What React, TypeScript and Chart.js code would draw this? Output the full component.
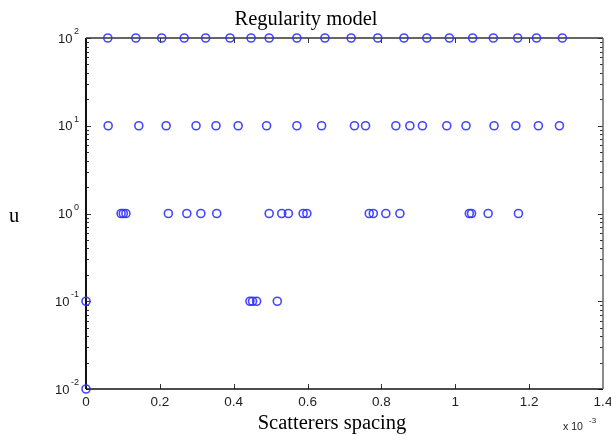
import React, { useEffect, useRef } from "react";
import { Chart, registerables } from "chart.js";

Chart.register(...registerables);

// ---- Data (x values in units of 1e-3) ----
const X_U100 = [0.059, 0.135, 0.205, 0.266, 0.324, 0.39, 0.447, 0.496, 0.571, 0.647, 0.718, 0.79, 0.861, 0.923, 0.984, 1.047, 1.103, 1.169, 1.22, 1.29];
const X_U10 = [0.06, 0.143, 0.217, 0.298, 0.352, 0.412, 0.489, 0.571, 0.638, 0.727, 0.757, 0.839, 0.877, 0.911, 0.977, 1.029, 1.105, 1.164, 1.225, 1.282];
const X_U1 = [0.095, 0.101, 0.108, 0.223, 0.273, 0.311, 0.354, 0.496, 0.53, 0.548, 0.588, 0.598, 0.767, 0.778, 0.812, 0.85, 1.038, 1.044, 1.089, 1.171];
const X_U01 = [0, 0.444, 0.451, 0.462, 0.518];
const X_U001 = [0];

const ROWS: [number, number[]][] = [
  [100, X_U100],
  [10, X_U10],
  [1, X_U1],
  [0.1, X_U01],
  [0.01, X_U001],
];

const Y_TICK_EXPONENTS = [-2, -1, 0, 1, 2];
const X_MIN = 0;
const X_MAX = 1.4;
const X_STEP = 0.2;

const TITLE = "Regularity model";
const X_TITLE = "Scatterers spacing";
const Y_TITLE = "u";
const X_MULT_BASE = "x 10";
const X_MULT_EXP = "-3";

const points = ROWS.flatMap(([u, xs]) => xs.map((x) => ({ x, y: u })));

const framePlugin = {
  id: "matlabFrame",
  beforeDatasetsDraw(chart: any) {
    const { ctx, chartArea: a } = chart;
    const xs = chart.scales.x;
    const ys = chart.scales.y;
    ctx.save();
    ctx.strokeStyle = "#333";
    ctx.lineWidth = 1;
    ctx.beginPath();
    xs.ticks.forEach((t: any) => {
      const px = Math.round(xs.getPixelForValue(t.value)) + 0.5;
      if (t.value <= X_MIN || t.value >= X_MAX) return;
      ctx.moveTo(px, a.bottom);
      ctx.lineTo(px, a.bottom - 5);
      ctx.moveTo(px, a.top);
      ctx.lineTo(px, a.top + 5);
    });
    for (let e = Y_TICK_EXPONENTS[0]; e <= Y_TICK_EXPONENTS[Y_TICK_EXPONENTS.length - 1]; e++) {
      const major = Math.round(ys.getPixelForValue(Math.pow(10, e))) + 0.5;
      ctx.moveTo(a.left, major);
      ctx.lineTo(a.left + 5, major);
      ctx.moveTo(a.right, major);
      ctx.lineTo(a.right - 5, major);
      if (e === Y_TICK_EXPONENTS[Y_TICK_EXPONENTS.length - 1]) break;
      for (let d = 2; d <= 9; d++) {
        const py = Math.round(ys.getPixelForValue(d * Math.pow(10, e))) + 0.5;
        ctx.moveTo(a.left, py);
        ctx.lineTo(a.left + 3, py);
        ctx.moveTo(a.right, py);
        ctx.lineTo(a.right - 3, py);
      }
    }
    ctx.stroke();
    ctx.strokeStyle = "#111";
    ctx.lineWidth = 2;
    ctx.beginPath();
    ctx.moveTo(a.left, a.top);
    ctx.lineTo(a.left, a.bottom);
    ctx.stroke();
    ctx.lineWidth = 1.5;
    ctx.beginPath();
    ctx.moveTo(a.left, a.bottom);
    ctx.lineTo(a.right, a.bottom);
    ctx.stroke();
    ctx.strokeStyle = "#333";
    ctx.lineWidth = 1.3;
    ctx.beginPath();
    ctx.moveTo(a.left, a.top);
    ctx.lineTo(a.right, a.top);
    ctx.stroke();
    ctx.strokeStyle = "#666";
    ctx.lineWidth = 1.5;
    ctx.beginPath();
    ctx.moveTo(a.right, a.top);
    ctx.lineTo(a.right, a.bottom);
    ctx.stroke();
    ctx.restore();
  },
  afterDraw(chart: any) {
    const { ctx, chartArea: a } = chart;
    const ys = chart.scales.y;
    ctx.save();
    ctx.fillStyle = "#1a1a1a";
    Y_TICK_EXPONENTS.forEach((e) => {
      const py = ys.getPixelForValue(Math.pow(10, e));
      const exp = String(e);
      ctx.font = '9px "Liberation Sans", Arial, sans-serif';
      ctx.textAlign = "right";
      ctx.textBaseline = "alphabetic";
      const expW = ctx.measureText(exp).width;
      const expRight = a.left - 7;
      ctx.fillText(exp, expRight, py - 4);
      ctx.font = '13px "Liberation Sans", Arial, sans-serif';
      ctx.textBaseline = "middle";
      ctx.fillText("10", expRight - expW - 1.5, py + 1);
    });
    ctx.fillStyle = "#000";
    ctx.font = '20.5px "Liberation Serif", "Times New Roman", serif';
    ctx.textAlign = "center";
    ctx.textBaseline = "alphabetic";
    ctx.fillText(TITLE, 306, 25);
    ctx.fillText(X_TITLE, 332, 429);
    ctx.fillText(Y_TITLE, 14, 222);
    ctx.fillStyle = "#222";
    ctx.textAlign = "left";
    ctx.font = '10.5px "Liberation Sans", Arial, sans-serif';
    ctx.fillText(X_MULT_BASE, 563, 430);
    ctx.font = '8px "Liberation Sans", Arial, sans-serif';
    ctx.fillText(X_MULT_EXP, 589, 423);
    ctx.restore();
  },
};

export default function App() {
  const ref = useRef<HTMLCanvasElement | null>(null);
  useEffect(() => {
    if (!ref.current) return;
    const chart = new Chart(ref.current, {
      type: "scatter",
      data: {
        datasets: [
          {
            data: points,
            showLine: false,
            pointStyle: "circle",
            pointRadius: 4,
            pointBorderWidth: 1.6,
            borderColor: "rgba(50,50,255,0.9)",
            backgroundColor: "rgba(0,0,0,0)",
            clip: false as any,
          },
        ],
      },
      options: {
        responsive: false,
        animation: false,
        devicePixelRatio: 1,
        layout: { padding: { top: 38, right: 8, left: 0, bottom: 0 } },
        plugins: {
          legend: { display: false },
          title: { display: false },
          tooltip: { enabled: false },
        },
        scales: {
          x: {
            type: "linear",
            min: X_MIN,
            max: X_MAX,
            grid: { display: false, drawTicks: false },
            border: { display: false },
            ticks: {
              stepSize: X_STEP,
              padding: 5,
              color: "#222",
              font: { family: '"Liberation Sans", Arial, sans-serif', size: 13.5 },
              callback: (v: any) => String(Number(Number(v).toFixed(1))),
            },
            afterFit: (s: any) => {
              s.height = 46;
              s.paddingRight = 0;
              s.paddingLeft = 0;
            },
          },
          y: {
            type: "logarithmic",
            min: 0.01,
            max: 100,
            grid: { display: false, drawTicks: false },
            border: { display: false },
            ticks: { display: false },
            afterBuildTicks: (s: any) => {
              s.ticks = Y_TICK_EXPONENTS.map((e) => ({ value: Math.pow(10, e) }));
            },
            afterFit: (s: any) => {
              s.width = 86;
              s.paddingTop = 0;
              s.paddingBottom = 0;
            },
          },
        },
      },
      plugins: [framePlugin],
    });
    return () => chart.destroy();
  }, []);
  return (
    <div style={{ position: "fixed", left: 0, top: 0, width: 611, height: 435, background: "#fff" }}>
      <canvas ref={ref} width={611} height={435} style={{ display: "block" }} />
    </div>
  );
}
